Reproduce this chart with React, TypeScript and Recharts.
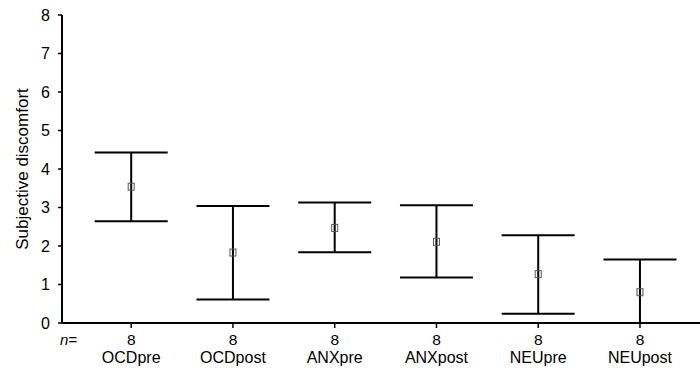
import React from 'react';
import { ComposedChart, Scatter, XAxis, YAxis, ErrorBar } from 'recharts';

const categories = ['OCDpre', 'OCDpost', 'ANXpre', 'ANXpost', 'NEUpre', 'NEUpost'];
const sampleSizes = [8, 8, 8, 8, 8, 8];
const means = [3.54, 1.83, 2.47, 2.11, 1.27, 0.8];
const lows = [2.64, 0.61, 1.84, 1.18, 0.24, 0];
const highs = [4.43, 3.04, 3.13, 3.06, 2.28, 1.65];
const yTicks = [0, 1, 2, 3, 4, 5, 6, 7, 8];
const xPositions = [1, 2, 3, 4, 5, 6];

const data = categories.map((name, i) => ({
  x: xPositions[i],
  name,
  n: sampleSizes[i],
  mean: means[i],
  err: [means[i] - lows[i], highs[i] - means[i]],
}));

const FONT = '"Liberation Sans", Arial, Helvetica, sans-serif';

const XTick = (props: any) => {
  const { x, y, payload } = props;
  const idx = xPositions.indexOf(payload.value);
  if (idx < 0) return null;
  return (
    <g>
      <text x={x} y={y} dy={17} textAnchor="middle" fontSize={15.5} fill="#000" fontFamily={FONT}>
        {sampleSizes[idx]}
      </text>
      <text x={x} y={y} dy={35} textAnchor="middle" fontSize={16} fill="#000" fontFamily={FONT}>
        {categories[idx]}
      </text>
    </g>
  );
};

const MeanMarker = (props: any) => {
  const { cx, cy } = props;
  return <rect x={cx - 3} y={cy - 3.5} width={6} height={7} fill="none" stroke="#555" strokeWidth={1} />;
};

export default function App() {
  return (
    <div style={{ position: 'absolute', left: 0, top: 0, width: 700, height: 370, overflow: 'hidden', fontFamily: FONT }}>
      <ComposedChart width={700} height={370} data={data} margin={{ top: 15, right: 0, bottom: 0, left: 0 }}>
        <XAxis
          type="number"
          dataKey="x"
          domain={[0.32, 6.59]}
          ticks={xPositions}
          allowDataOverflow
          interval={0}
          height={47}
          tickSize={5}
          tickMargin={0}
          tick={<XTick />}
          axisLine={{ stroke: '#000', strokeWidth: 2 }}
          tickLine={{ stroke: '#000', strokeWidth: 1.5 }}
          label={({ viewBox }: any) => (
            <text
              x={viewBox.x - 2}
              y={viewBox.y + 22}
              fontSize={15}
              fontStyle="italic"
              fill="#000"
              fontFamily={FONT}
            >
              n=
            </text>
          )}
        />
        <YAxis
          type="number"
          domain={[0, 8]}
          ticks={yTicks}
          width={62}
          tickSize={4}
          tickMargin={8}
          interval={0}
          tick={{ fill: '#000', fontSize: 16, fontFamily: FONT }}
          axisLine={{ stroke: '#000', strokeWidth: 2 }}
          tickLine={{ stroke: '#000', strokeWidth: 1.5 }}
          label={({ viewBox }: any) => {
            const cx = 22;
            const cy = viewBox.y + viewBox.height / 2;
            return (
              <text
                x={cx}
                y={cy}
                transform={`rotate(-90, ${cx}, ${cy})`}
                textAnchor="middle"
                dominantBaseline="central"
                fontSize={17}
                fill="#000"
                fontFamily={FONT}
              >
                Subjective discomfort
              </text>
            );
          }}
        />
        <Scatter dataKey="mean" shape={<MeanMarker />} isAnimationActive={false}>
          <ErrorBar dataKey="err" direction="y" width={36.5} stroke="#000" strokeWidth={2} />
        </Scatter>
      </ComposedChart>
    </div>
  );
}
